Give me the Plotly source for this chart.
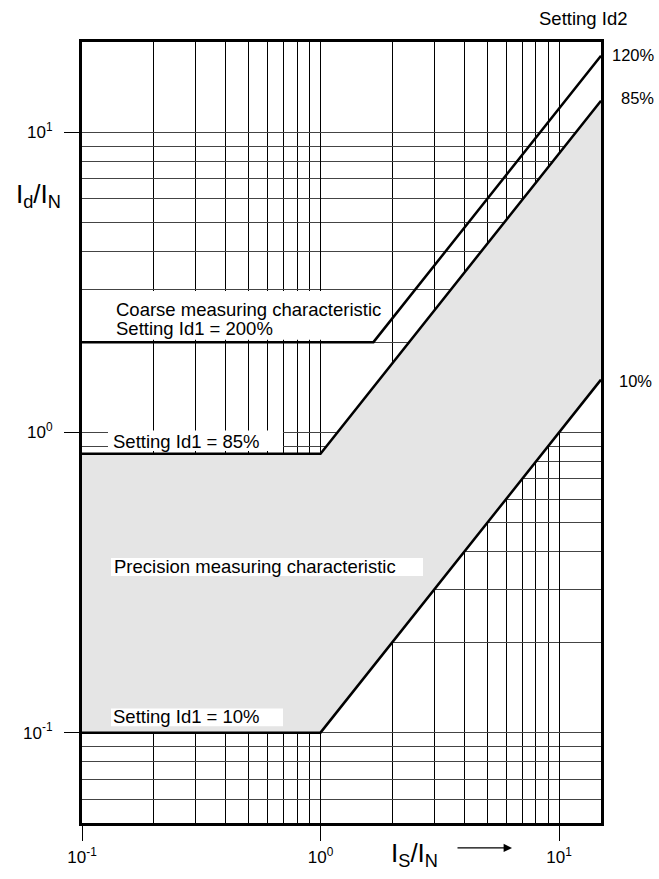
import plotly.graph_objects as go

# ---- data ----
x_knee_pts = [0.1, 1.0, 15.0]
id1_10_y = [0.1, 0.1, 1.5]
id1_85_y = [0.85, 0.85, 12.75]
coarse_x = [0.1, 1.667, 15.0]
coarse_y = [2.0, 2.0, 18.0]

x_major = [0.1, 1, 10]
x_major_text = ["10<sup>-1</sup>", "10<sup>0</sup>", "10<sup>1</sup>"]
y_major = [0.1, 1, 10]
y_major_text = ["10<sup>-1</sup>", "10<sup>0</sup>", "10<sup>1</sup>"]
x_minor = [0.2, 0.3, 0.4, 0.5, 0.6, 0.7, 0.8, 0.9,
           2, 3, 4, 5, 6, 7, 8, 9]
y_minor = [0.06, 0.07, 0.08, 0.09, 0.2, 0.3, 0.4, 0.5, 0.6, 0.7, 0.8, 0.9,
           2, 3, 4, 5, 6, 7, 8, 9, 20]

FONT = "Liberation Sans, Arial, sans-serif"
W, H = 659, 879
L, R, T, B = 82, 601, 42, 826


def px(x):
    return (x - L) / (R - L)


def py(y):
    return (B - y) / (B - T)


fig = go.Figure()
fig.add_trace(go.Scatter(x=x_knee_pts, y=id1_10_y, mode="lines",
                         line=dict(color="black", width=2.5), showlegend=False,
                         hoverinfo="skip"))
fig.add_trace(go.Scatter(x=x_knee_pts, y=id1_85_y, mode="lines",
                         line=dict(color="black", width=2.5), fill="tonexty",
                         fillcolor="#e5e5e5", showlegend=False, hoverinfo="skip"))
fig.add_trace(go.Scatter(x=coarse_x, y=coarse_y, mode="lines",
                         line=dict(color="black", width=2.5), showlegend=False,
                         hoverinfo="skip"))

# white label boxes (x0, y0, x1, y1 in pixels)
boxes = [(108, 292, 372, 341), (108, 432, 283, 452.5),
         (111, 560, 423, 578), (111, 711, 283, 729)]
shapes = []
for x0, y0, x1, y1 in boxes:
    shapes.append(dict(type="rect", xref="paper", yref="paper",
                       x0=px(x0), x1=px(x1), y0=py(y1), y1=py(y0),
                       fillcolor="white", line=dict(width=0), layer="above"))

ann = []


def txt(t, x, y, size=18.5, xanchor="left"):
    ann.append(dict(text=t, x=px(x), y=py(y), xref="paper", yref="paper",
                    xanchor=xanchor, yanchor="middle", showarrow=False,
                    font=dict(family=FONT, size=size, color="black")))


txt("Coarse measuring characteristic", 114, 311)
txt("Setting Id1 = 200%", 114, 330)
txt("Setting Id1 = 85%", 111, 443)
txt("Precision measuring characteristic", 112, 569)
txt("Setting Id1 = 10%", 111, 719)
txt("Setting Id2", 583, 18, xanchor="center")
txt("120%", 610, 55, size=16.5)
txt("85%", 619, 98, size=16.5)
txt("10%", 617, 382, size=16.5)
txt("I<sub>d</sub>/I<sub>N</sub>", 14, 196, size=26)
txt("I<sub>S</sub>/I<sub>N</sub>", 389, 858, size=26)
ann.append(dict(x=px(512), y=py(851), xref="paper", yref="paper",
                ax=-56, ay=0, axref="pixel", ayref="pixel", text="",
                showarrow=True, arrowhead=2, arrowsize=1.4, arrowwidth=1.2,
                arrowcolor="black"))

fig.update_layout(
    width=W, height=H,
    margin=dict(l=L, r=W - R, t=T, b=H - B),
    paper_bgcolor="white", plot_bgcolor="white",
    font=dict(family=FONT, size=17, color="black"),
    shapes=shapes, annotations=ann,
    xaxis=dict(type="log", range=[-1, 1.1761], tickmode="array",
               tickvals=x_major, ticktext=x_major_text,
               ticks="outside", ticklen=15, tickwidth=1, tickcolor="black",
               showgrid=True, gridcolor="black", gridwidth=1,
               showline=True, linecolor="black", linewidth=3, mirror=True,
               zeroline=False, ticklabelstandoff=2,
               tickfont=dict(size=17, family=FONT, color="black"),
               minor=dict(tickmode="array", tickvals=x_minor, showgrid=True,
                          gridcolor="black", gridwidth=1, ticks="")),
    yaxis=dict(type="log", range=[-1.30103, 1.30103], tickmode="array",
               tickvals=y_major, ticktext=y_major_text,
               ticks="outside", ticklen=15, tickwidth=1, tickcolor="black",
               showgrid=True, gridcolor="#444", gridwidth=1.2,
               showline=True, linecolor="black", linewidth=3, mirror=True,
               zeroline=False, ticklabelstandoff=8,
               tickfont=dict(size=17, family=FONT, color="black"),
               minor=dict(tickmode="array", tickvals=y_minor, showgrid=True,
                          gridcolor="#444", gridwidth=1.2, ticks="")),
)

fig.write_html("out.html", config={"displayModeBar": False},
               post_script="document.body.style.margin='0';document.body.style.padding='0';")
